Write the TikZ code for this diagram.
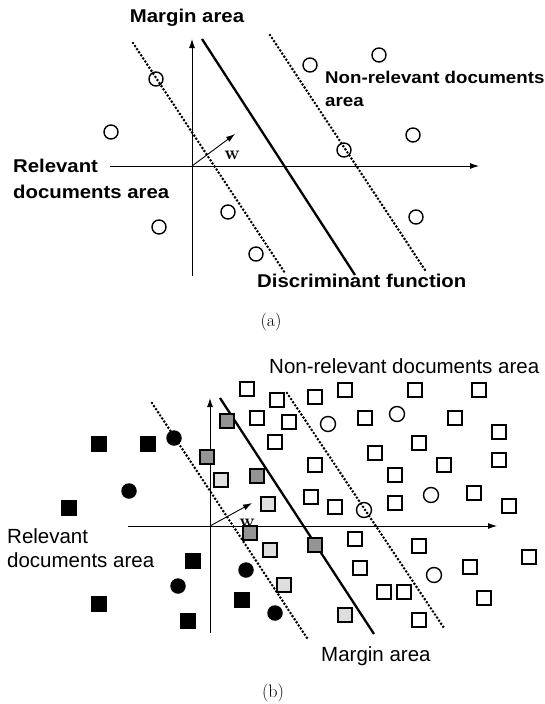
\documentclass[tikz,border=0pt]{standalone}
\usepackage{fontspec}
\usepackage{tikz}
\usetikzlibrary{arrows.meta}

\newfontfamily\lblbold[FakeStretch=1.1]{Liberation Sans}
\newfontfamily\lblplain{Liberation Sans}

\begin{document}
\begin{tikzpicture}[x=1pt, y=-1pt]
		\tikzstyle{axis}=[line width=0.9pt, -{Latex[length=9pt,width=6pt]}];
		\tikzstyle{boundary}=[line width=2.3pt];
		\tikzstyle{margin}=[line width=2.9pt, dash pattern=on 0pt off 3.7pt, line cap=round];
		\tikzstyle{doc}=[circle, draw, line width=1.4pt, minimum size=14pt, inner sep=0pt];
		\tikzstyle{rel}=[circle, fill=black, minimum size=15.5pt, inner sep=0pt];
		\tikzstyle{box}=[rectangle, draw, line width=1.4pt, minimum size=14pt, inner sep=0pt];
		\tikzstyle{relbox}=[box, fill=black];
		\tikzstyle{darkbox}=[box, line width=1.7pt, fill=black!42];
		\tikzstyle{lightbox}=[box, fill=black!13];
		\tikzstyle{titlea}=[inner sep=0pt, font=\lblbold\bfseries\fontsize{18.5}{25.5}\selectfont];
		\tikzstyle{titleb}=[inner sep=0pt, font=\lblplain\fontsize{20.5}{24}\selectfont];
		\tikzstyle{vec}=[inner sep=0pt, font=\bfseries\fontsize{19}{19}\selectfont];
		\tikzstyle{caption}=[inner sep=0pt, font=\fontsize{18}{18}\selectfont];

		\useasboundingbox (0,0) rectangle (545,704);

		% (a)
		\coordinate (oa) at (192,166);
		\coordinate (xla) at (110,166);
		\coordinate (xra) at (479,166);
		\coordinate (yta) at (192,39);
		\coordinate (yba) at (192,276);
		\coordinate (wa) at (235,134);
		\coordinate (sta) at (202,39);
		\coordinate (sba) at (355,275);
		\coordinate (lta) at (133,43);
		\coordinate (lba) at (285,273);
		\coordinate (rta) at (270,35);
		\coordinate (rba) at (425,270);

		\draw[axis] (xla) -- (xra);
		\draw[axis] (yba) -- (yta);
		\draw[axis] (oa) -- (wa);
		\draw[boundary] (sta) -- (sba);
		\draw[margin] (lta) -- (lba);
		\draw[margin] (rta) -- (rba);

		\foreach \x/\y [count=\i] in {156/79, 111/132, 228/212, 159/227, 256/254,
				310/65, 379/55, 413/135, 344/150, 416/217}
			\node[doc] (ca\i) at (\x,\y) {};

		\node[titlea, anchor=base] (margina) at (187,22) {Margin area};
		\node[titlea, anchor=base west, align=left, font=\lblbold\bfseries\fontsize{17}{23}\selectfont]
			(nonrela) at (325,106) {Non-relevant documents\\area};
		\node[titlea, anchor=base west, align=left] (rela) at (13,198) {Relevant\\documents area};
		\node[titlea, anchor=base west] (disc) at (257,287) {Discriminant function};
		\node[vec, anchor=base] (wlabela) at (232,159) {w};
		\node[caption, anchor=base] (capa) at (271,326) {(a)};

		% (b)
		\coordinate (ob) at (210,526);
		\coordinate (xlb) at (128,526);
		\coordinate (xrb) at (497,526);
		\coordinate (ytb) at (210,398);
		\coordinate (ybb) at (210,633);
		\coordinate (wb) at (252,503);
		\coordinate (stb) at (220,398);
		\coordinate (sbb) at (374,634);
		\coordinate (ltb) at (152,403);
		\coordinate (lbb) at (307,638);
		\coordinate (rtb) at (287,393);
		\coordinate (rbb) at (444,628);

		\draw[axis] (xlb) -- (xrb);
		\draw[axis] (ybb) -- (ytb);
		\draw[axis] (ob) -- (wb);
		\draw[boundary] (stb) -- (sbb);
		\draw[margin] (ltb) -- (lbb);
		\draw[margin] (rtb) -- (rbb);

		\foreach \x/\y [count=\i] in {99/444, 148/444, 69/508, 193/561, 99/604, 188/621, 242/600}
			\node[relbox] (rb\i) at (\x,\y) {};
		\foreach \x/\y [count=\i] in {174/438, 129/491, 178/586, 246/570, 275/613}
			\node[rel] (rc\i) at (\x,\y) {};
		\foreach \x/\y [count=\i] in {227/421, 207/457, 257/476, 250/533, 315/545}
			\node[darkbox] (db\i) at (\x,\y) {};
		\foreach \x/\y [count=\i] in {221/480, 268/504, 270/550, 284/585, 345/615}
			\node[lightbox] (lb\i) at (\x,\y) {};
		\foreach \x/\y [count=\i] in {247/389, 277/400, 257/418, 289/422, 275/442, 315/397,
				345/390, 415/390, 479/390, 365/418, 455/418, 499/432, 419/443, 375/453,
				315/465, 395/475, 444/465, 499/460, 311/497, 335/507, 395/503, 474/493,
				509/506, 355/539, 419/546, 529/557, 360/568, 470/567, 384/592, 404/592,
				484/598, 419/620}
			\node[box] (nb\i) at (\x,\y) {};
		\foreach \x/\y [count=\i] in {328/424, 397/414, 431/495, 364/510, 434/575}
			\node[doc, minimum size=15pt] (nc\i) at (\x,\y) {};

		\node[titleb, anchor=base west] (nonrelb) at (269,373) {Non-relevant documents area};
		\node[titleb, anchor=base west, align=left] (relb) at (7,567) {Relevant\\documents area};
		\node[titleb, anchor=base west] (marginb) at (321,661) {Margin area};
		\node[vec, anchor=base] (wlabelb) at (247,527) {w};
		\node[caption, anchor=base] (capb) at (273,697) {(b)};
	\end{tikzpicture}
\end{document}
